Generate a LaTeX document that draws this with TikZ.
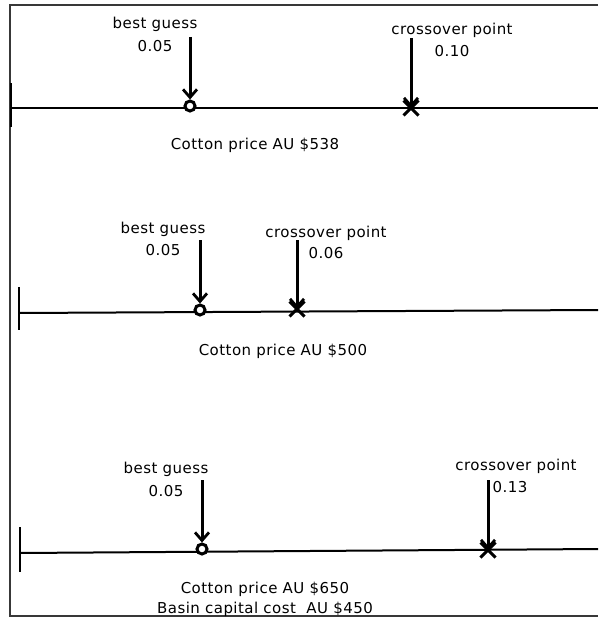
\documentclass[tikz,border=0pt]{standalone}
\usepackage{fontspec}
\setmainfont{DejaVu Sans}[LetterSpace=3]
\usetikzlibrary{arrows.meta,shapes.misc}
\begin{document}
\begin{tikzpicture}[x=1pt,y=-1pt,
  frame/.style={draw=black!78,line width=2pt},
  axis/.style={draw=black,line width=2pt},
  endtick/.style={draw=black,line width=2.2pt},
  pointer/.style={draw=black,line width=3pt,-{Straight Barb[length=8pt,width=14pt,line width=2.8pt]}},
  guess/.style={circle,draw=black,line width=3pt,fill=white,minimum size=10pt,inner sep=0pt},
  cross/.style={cross out,draw=black,line width=3pt,minimum size=12pt,inner sep=0pt},
  lbl/.style={font=\fontsize{15}{17}\selectfont,inner sep=0pt,align=center}
]
\useasboundingbox (0,0) rectangle (598,618);
% outer frame (open on the right)
\draw[frame] (598,5) -- (10,5) -- (10,616) -- (598,616);

% ---- panel 1: cotton price AU $538
\coordinate (a1s) at (11,108); \coordinate (a1e) at (598,108);
\draw[axis] (a1s) -- (a1e);
\draw[endtick] (11,83) -- (11,127);
\node[guess] (g1) at (190,106) {};
\node[cross] (c1) at (411,108) {};
\coordinate (g1top) at (190,37);
\coordinate (c1top) at (411,38);
\draw[pointer] (g1top) -- (g1.north);
\draw[pointer] (c1top) -- (c1.center);
\node[lbl] (g1t) at (155,24) {best guess};
\node[lbl] (g1v) at (155,46) {0.05};
\node[lbl] (c1t) at (452,30) {crossover point};
\node[lbl] (c1v) at (452,51) {0.10};
\node[lbl] (p1) at (255,145) {Cotton price AU \$538};

% ---- panel 2: cotton price AU $500
\coordinate (a2s) at (19,313); \coordinate (a2e) at (598,310);
\draw[axis] (a2s) -- (a2e);
\draw[endtick] (19,287) -- (19,330);
\node[guess] (g2) at (200,310) {};
\node[cross] (c2) at (297,309) {};
\coordinate (g2top) at (200,240);
\coordinate (c2top) at (297,240);
\draw[pointer] (g2top) -- (g2.north);
\draw[pointer] (c2top) -- (c2.center);
\node[lbl] (g2t) at (163,229) {best guess};
\node[lbl] (g2v) at (163,250) {0.05};
\node[lbl] (c2t) at (326,233) {crossover point};
\node[lbl] (c2v) at (326,253) {0.06};
\node[lbl] (p2) at (283,351) {Cotton price AU \$500};

% ---- panel 3: cotton price AU $650, basin capital cost AU $450
\coordinate (a3s) at (20,553); \coordinate (a3e) at (598,549);
\draw[axis] (a3s) -- (a3e);
\draw[endtick] (20,527) -- (20,572);
\node[guess] (g3) at (202,549) {};
\node[cross] (c3) at (488,550) {};
\coordinate (g3top) at (202,480);
\coordinate (c3top) at (488,480);
\draw[pointer] (g3top) -- (g3.north);
\draw[pointer] (c3top) -- (c3.center);
\node[lbl] (g3t) at (166,469) {best guess};
\node[lbl] (g3v) at (166,491) {0.05};
\node[lbl] (c3t) at (516,466) {crossover point};
\node[lbl] (c3v) at (510,487) {0.13};
\node[lbl] (p3a) at (265,589) {Cotton price AU \$650};
\node[lbl] (p3b) at (265,609) {Basin capital cost\ \ AU \$450};
\end{tikzpicture}
\end{document}
